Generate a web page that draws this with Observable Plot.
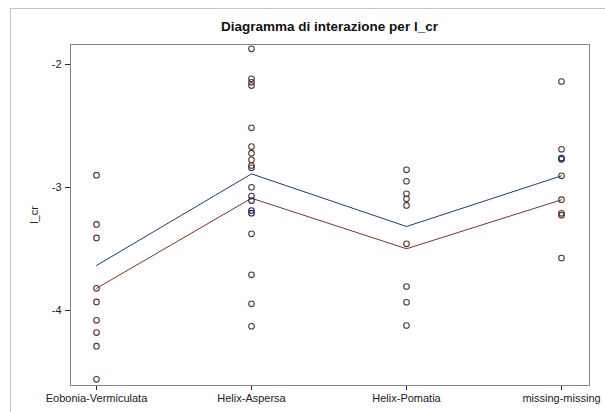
<!DOCTYPE html>
<html>
<head>
<meta charset="utf-8">
<script src="https://cdn.jsdelivr.net/npm/d3@7"></script>
<script src="https://cdn.jsdelivr.net/npm/@observablehq/plot@0.6"></script>
<style>
  html, body { margin: 0; padding: 0; background: #fff; }
  #wrap { position: relative; width: 605px; height: 412px; overflow: hidden; font-family: "Liberation Sans", Arial, sans-serif; }
  #border { position: absolute; left: 10px; top: 8px; width: 600px; height: 420px; border-left: 1px solid #c4c4c4; border-top: 1px solid #c4c4c4; }
  #title { position: absolute; left: 70px; width: 519px; top: 19px; text-align: center; font-weight: bold; font-size: 13.5px; color: #111; }
  #chart { position: absolute; left: 0; top: 0; }
</style>
</head>
<body>
<div id="wrap">
  <div id="border"></div>
  <div id="chart"></div>
  <div id="title">Diagramma di interazione per l_cr</div>
</div>
<script>
const categorie = ["Eobonia-Vermiculata", "Helix-Aspersa", "Helix-Pomatia", "missing-missing"];

// Osservazioni di l_cr per categoria e gruppo del punto
const valoriEobonia = [-2.90, -3.30, -3.41, -3.82, -3.93, -4.08, -4.18, -4.29, -4.56];
const gruppiEobonia = ["r", "r", "r", "r", "r", "r", "r", "r", "r"];

const valoriAspersa = [-1.872, -2.116, -2.144, -2.171, -2.515, -2.667, -2.721, -2.775, -2.821, -2.840,
                       -2.998, -3.07, -3.106, -3.187, -3.209, -3.376, -3.710, -3.946, -4.128];
const gruppiAspersa = ["r", "r", "r", "r", "r", "r", "r", "r", "r", "r",
                       "r", "r", "b", "b", "b", "r", "r", "r", "r"];

const valoriPomatia = [-2.856, -2.949, -3.051, -3.092, -3.146, -3.458, -3.805, -3.933, -4.122];
const gruppiPomatia = ["r", "r", "r", "r", "r", "r", "r", "r", "r"];

const valoriMissing = [-2.138, -2.689, -2.760, -2.771, -2.905, -3.099, -3.210, -3.225, -3.573];
const gruppiMissing = ["r", "r", "b", "b", "r", "r", "r", "r", "r"];

// Medie per le due linee
const medieBlu = [-3.634, -2.889, -3.317, -2.905];
const medieRosso = [-3.82, -3.087, -3.498, -3.10];

const yTicks = [-2, -3, -4];
const yDominio = [-4.61, -1.837];

const coloreBlu = "#2a3670";
const coloreRosso = "#7a3428";

const punti = [];
[[valoriEobonia, gruppiEobonia], [valoriAspersa, gruppiAspersa], [valoriPomatia, gruppiPomatia], [valoriMissing, gruppiMissing]]
  .forEach(([vals, grps], i) => vals.forEach((v, j) => punti.push({cat: categorie[i], y: v, g: grps[j]})));

const lineaBlu = categorie.map((c, i) => ({cat: c, y: medieBlu[i]}));
const lineaRosso = categorie.map((c, i) => ({cat: c, y: medieRosso[i]}));

const chart = Plot.plot({
  width: 605,
  height: 412,
  marginTop: 44,
  marginBottom: 27,
  marginLeft: 70,
  marginRight: 16,
  style: {fontFamily: "'Liberation Sans', Arial, sans-serif", fontSize: "11px", color: "#222", background: "transparent"},
  x: {type: "point", domain: categorie, padding: 0, insetLeft: 25, insetRight: 27, label: null, tickSize: 5},
  y: {domain: yDominio, ticks: yTicks, tickFormat: d => String(d), tickSize: 5, label: "l_cr", labelAnchor: "center", labelOffset: 40, labelArrow: "none"},
  color: {domain: ["b", "r"], range: ["#1e2658", "#4e3836"]},
  marks: [
    Plot.frame({stroke: "#858585"}),
    Plot.line(lineaBlu, {x: "cat", y: "y", stroke: coloreBlu, strokeWidth: 1}),
    Plot.line(lineaRosso, {x: "cat", y: "y", stroke: coloreRosso, strokeWidth: 1}),
    Plot.dot(punti, {x: "cat", y: "y", stroke: "g", r: 2.8, strokeWidth: 1.1})
  ]
});
document.getElementById("chart").appendChild(chart);
</script>
</body>
</html>
